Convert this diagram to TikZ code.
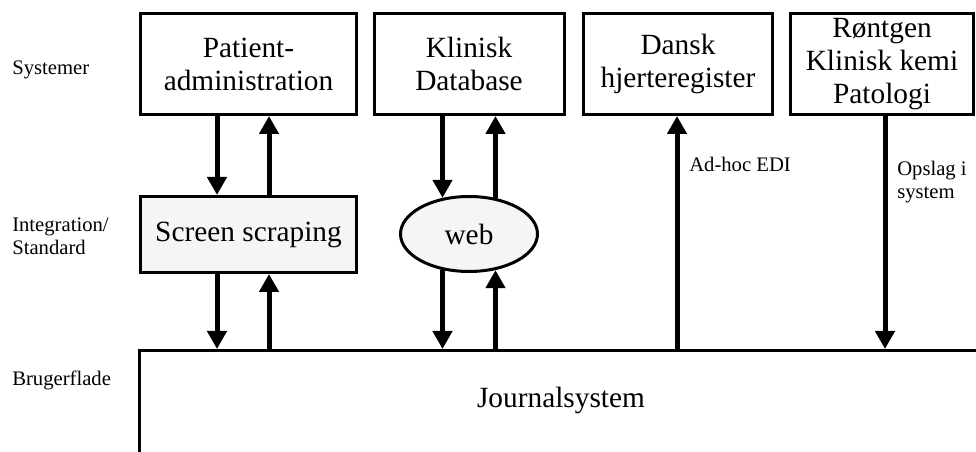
\documentclass[tikz,border=0pt]{standalone}
\usepackage{fontspec}
\setmainfont{Liberation Serif}
\usetikzlibrary{arrows.meta,shapes.geometric,calc}
\tikzset{
  sysbox/.style={draw, line width=2.25pt, inner sep=0pt, align=center,
    font=\fontsize{22}{24.75}\selectfont},
  intbox/.style={sysbox, fill=black!4},
  flow/.style={line width=3.75pt, -{Triangle[width=14.25pt,length=13.5pt]}},
  sidelabel/.style={anchor=west, align=left, inner sep=0pt,
    font=\fontsize{15.5}{17.25}\selectfont},
}
\begin{document}
\begin{tikzpicture}[x=0.75pt,y=-0.75pt]
\useasboundingbox (0,0) rectangle (976,452);

% source systems
\node[sysbox, minimum width=162pt, minimum height=75.75pt] (pa) at (248.5,64) {Patient-\\administration};
\node[sysbox, minimum width=142.5pt, minimum height=75.75pt] (kd) at (469,64) {Klinisk\\Database};
\node[sysbox, minimum width=141.75pt, minimum height=75.75pt] (dh) at (678,64) {Dansk\\hjerteregister};
\node[sysbox, minimum width=137.25pt, minimum height=75.75pt] (rk) at (882,64) {Røntgen\\Klinisk kemi\\Patologi};

% integration layer
\node[intbox, minimum width=162pt, minimum height=57pt] (ss) at (248.5,234.5) {Screen scraping};
\node[intbox, ellipse, minimum width=102.75pt, minimum height=56.25pt] (web) at (469,234) {web};

% user interface (runs off the page to the right and bottom)
\node[draw, line width=2pt, inner sep=0pt, anchor=north west,
  minimum width=700pt, minimum height=120pt] (js) at (138,349) {};
\node[font=\fontsize{22}{24.75}\selectfont] (jtxt) at (561,400) {Journalsystem};

% layer captions
\node[sidelabel] (lsys) at (12,70) {Systemer};
\node[sidelabel] (lint) at (12,236.5) {Integration/\\Standard};
\node[sidelabel] (lbru) at (12,380) {Brugerflade};

% Patientadministration <-> screen scraping <-> Journalsystem
\draw[flow] ($(pa.south)+(-31.5,0)$) -- ($(pa.south |- ss.north)+(-31.5,0)$);
\draw[flow] ($(ss.north)+(20.5,0)$) -- ($(ss.north |- pa.south)+(20.5,0)$);
\draw[flow] ($(ss.south)+(-31.5,0)$) -- ($(ss.south |- js.north)+(-31.5,0)$);
\draw[flow] ($(ss.south |- js.north)+(20.5,0)$) -- ($(ss.south)+(20.5,0)$);

% Klinisk Database <-> web <-> Journalsystem
\draw[flow] ($(kd.south)+(-26.5,0)$) -- ($(kd.south |- web.126.3)+(-26.5,0)$);
\draw[flow] ($(kd.south |- web.53.7)+(26.5,0)$) -- ($(kd.south)+(26.5,0)$);
\draw[flow] ($(kd.south |- web.233.7)+(-26.5,0)$) -- ($(kd.south |- js.north)+(-26.5,0)$);
\draw[flow] ($(kd.south |- js.north)+(26.5,0)$) -- ($(kd.south |- web.306.3)+(26.5,0)$);

% direct links
\draw[flow] ($(dh.south |- js.north)+(-1,0)$) -- ($(dh.south)+(-1,0)$);
\node[sidelabel] (ladhoc) at (689,164) {Ad-hoc EDI};
\draw[flow] ($(rk.south)+(3,0)$) -- ($(rk.south |- js.north)+(3,0)$);
\node[sidelabel] (lops) at (897,182.5) {Opslag i\\system};
\end{tikzpicture}
\end{document}
